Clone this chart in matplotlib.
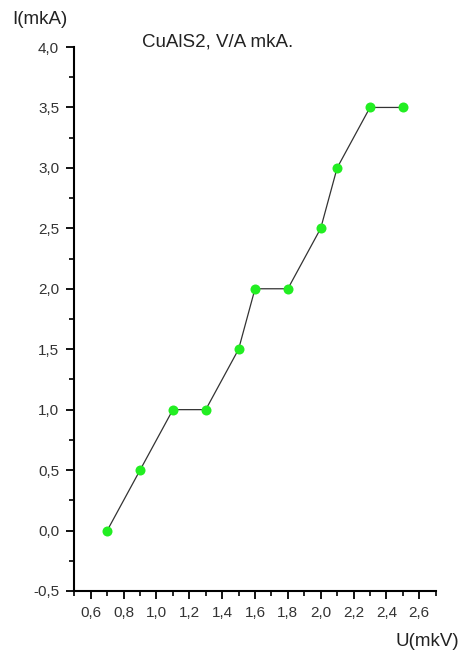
import numpy as np
import matplotlib.pyplot as plt
from matplotlib.ticker import MultipleLocator, FuncFormatter

plt.rcParams['font.family'] = ['Liberation Sans', 'DejaVu Sans']

u = [0.7, 0.9, 1.1, 1.3, 1.5, 1.6, 1.8, 2.0, 2.1, 2.3, 2.5]
i = [0.0, 0.5, 1.0, 1.0, 1.5, 2.0, 2.0, 2.5, 3.0, 3.5, 3.5]
xticks = [0.6, 0.8, 1.0, 1.2, 1.4, 1.6, 1.8, 2.0, 2.2, 2.4, 2.6]

fig = plt.figure(figsize=(4.62, 6.53), dpi=100)
ax = fig.add_axes([0.161, 0.095, 0.782, 0.833])

ax.plot(u, i, color='#333333', lw=0.9, zorder=2)
ax.scatter(u, i, s=52, color='#22ee22', zorder=3, linewidths=0)

ax.set_xlim(0.5, 2.7)
ax.set_ylim(-0.5, 4.0)

ax.set_xticks(xticks)
ax.xaxis.set_minor_locator(MultipleLocator(0.1))
ax.yaxis.set_major_locator(MultipleLocator(0.5))
ax.yaxis.set_minor_locator(MultipleLocator(0.25))

comma = FuncFormatter(lambda v, p: f'{v:.1f}'.replace('.', ','))
ax.xaxis.set_major_formatter(comma)
ax.yaxis.set_major_formatter(comma)

for s in ['top', 'right']:
    ax.spines[s].set_visible(False)
for s in ['left', 'bottom']:
    ax.spines[s].set_linewidth(1.5)

ax.tick_params(which='major', direction='out', length=6, width=1.3,
               labelsize=11, labelcolor='#333333', pad=5)
ax.tick_params(which='minor', direction='out', length=3.5, width=1.2)

fig.text(0.307, 0.935, 'CuAlS2, V/A mkA.', fontsize=13.5, color='#222222', va='center')
fig.text(0.027, 0.970, 'I(mkA)', fontsize=13.5, color='#222222', va='center')
fig.text(0.855, 0.018, 'U(mkV)', fontsize=13.5, color='#222222', va='center')

fig.savefig('out.png', dpi=100)
